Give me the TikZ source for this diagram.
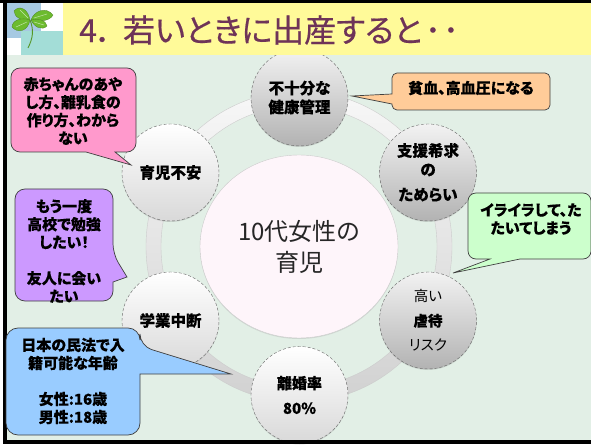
\documentclass[tikz,border=0pt]{standalone}
\usepackage{fontspec}
\newfontfamily\jpfont[RawFeature=+palt, BoldFeatures={FakeBold=0.25}]{Noto Sans CJK JP}
\newfontfamily\titlefont[RawFeature=+palt, FakeBold=0.5]{Noto Sans CJK JP}
\usetikzlibrary{shadows,shapes.geometric}
\definecolor{bgcol}{HTML}{E2EFE6}
\definecolor{titlecol}{HTML}{6E3358}
\definecolor{leafcol}{HTML}{6CBB2E}
\definecolor{pinkcol}{HTML}{FF99CC}
\definecolor{orangecol}{HTML}{FFCC99}
\definecolor{greencol}{HTML}{CCFFCC}
\definecolor{violetcol}{HTML}{CC99FF}
\definecolor{bluecol}{HTML}{99CCFF}
\definecolor{skycol}{HTML}{A6C9E2}
\definecolor{tealcol}{HTML}{A3DDD7}
\tikzset{
  callout/.style={draw=black!75, line width=0.7pt},
  calltext/.style={font=\jpfont\bfseries\fontsize{15}{18}\selectfont, align=center, inner sep=0pt},
  ringnode/.style={circle, minimum size=97pt, inner sep=0pt, align=center, draw=black!60, densely dashed, line width=0.4pt,
    font=\jpfont\bfseries\fontsize{15.5}{19}\selectfont, drop shadow={shadow xshift=0pt, shadow yshift=-1pt, opacity=.25}},
  lightnode/.style={ringnode, top color=white, bottom color=black!15},
  darknode/.style={ringnode, top color=black!5, bottom color=black!30},
  leaf/.style={fill=leafcol, draw=leafcol!70!black, line width=0.3pt},
  vein/.style={draw=white!60!leafcol, line width=0.5pt}
}
\begin{document}
\begin{tikzpicture}[x=1pt, y=-1pt]
\useasboundingbox (0,0) rectangle (591,446);
\fill[white] (0,0) rectangle (591,446);
\fill[bgcol] (5,55) rectangle (591,441);

% ring
\path[even odd rule, draw=black!20, top color=black!3, bottom color=black!18]
  (299,246.5) ellipse [x radius=153, y radius=155.5] (299,246.5) ellipse [x radius=138, y radius=140.5];

% circles
\node[darknode] (kenko) at (299.5,97.5) {不十分な\\健康管理};
\node[lightnode] (fuan) at (170.5,172.5) {育児不安};
\node[darknode] (enjo) at (428,172.5) {支援希求\\の\\[6pt]ためらい};
\node[lightnode] (chudan) at (170.5,320.5) {学業中断};
\node[darknode, font=\jpfont\fontsize{14.5}{24.5}\selectfont] (gyakutai) at (428,320.5) {高い\\\textbf{虐待}\\リスク};
\node[lightnode, font=\jpfont\bfseries\fontsize{15}{25}\selectfont] (rikon) at (299.5,395) {離婚率\\80\%};
\node[ellipse, minimum width=198pt, minimum height=183pt, inner sep=0pt, fill=magenta!4, draw=black!20, align=center,
  drop shadow={shadow xshift=0pt, shadow yshift=-1pt, opacity=.2},
  font=\jpfont\fontsize{24}{31}\selectfont, text=black!85] (center) at (299,246.5) {10代女性の\\育児};

% frame and title
\fill[yellow!40!white] (63,3) rectangle (591,55);
\fill[white] (6,3) rectangle (63,55);
\fill[skycol] (6,3) rectangle (41,38);
\fill[tealcol] (21,31) rectangle (63,55);
\fill[black] (0,0) rectangle (591,3);
\fill[black] (3,0) rectangle (6.5,444);
\fill[black] (3,440) rectangle (591,443.5);
\node[anchor=west, inner sep=0pt, text=titlecol, font=\titlefont\fontsize{32}{32}\selectfont] (title) at (79,30) {4．\hspace{10pt}若いときに出産すると\hspace{3pt}･\hspace{2pt}･};

% clover
\draw[leafcol!80!black, line width=0.9pt] (30,20) .. controls (34,30) and (33,38) .. (28,48);
\path[leaf] (30,21) .. controls (29,10) and (20,4) .. (14,11) .. controls (14,17) and (22,21) .. (30,21);
\path[leaf] (31,20) .. controls (34,11) and (46,6) .. (53,15) .. controls (50,21) and (40,22) .. (31,20);
\path[leaf] (30,20) .. controls (22,17) and (12,20) .. (12,27) .. controls (18,34) and (28,31) .. (30,20);
\path[leaf] (31,20) .. controls (34,27) and (42,31) .. (47,26) .. controls (46,20) and (38,18) .. (31,20);
\draw[vein] (28,18) -- (20,10) (34,18) -- (47,14) (27,22) -- (16,27) (34,22) -- (44,25);

% callouts
\draw[callout, fill=pinkcol] (30,68) [rounded corners=9] -- (136,68) -- (136,152) [sharp corners] -- (115,152) -- (131,165) -- (86,152) [rounded corners=9] -- (11,152) -- (11,68) -- cycle;
\node[calltext] (akachan) at (73,111) {赤ちゃんのあや\\し方、離乳食の\\作り方、わから\\ない};
\draw[callout, fill=orangecol] (410,73) [rounded corners=5] -- (550,73) -- (550,110) -- (392,110) [sharp corners] -- (392,104) -- (352,96) -- (392,94) [rounded corners=5] -- (392,73) -- cycle;
\node[calltext] (hinketsu) at (471,88) {貧血、高血圧になる};
\draw[callout, fill=greencol] (485,193) [rounded corners=8] -- (591,193) -- (591,259) [sharp corners] -- (520,259) -- (453,273) -- (490,259) [rounded corners=8] -- (468,259) -- (468,193) -- cycle;
\node[calltext] (iraira) at (531,219) {イライラして、た\\たいてしまう};
\draw[callout, fill=violetcol] (35,189) [rounded corners=10] -- (113,189) -- (113,254) [sharp corners] -- (127,277) -- (113,282) [rounded corners=10] -- (113,301) -- (15,301) -- (15,189) -- cycle;
\node[calltext] (koukou) at (64,251) {もう一度\\高校で勉強\\したい！\\\\友人に会い\\たい};
\draw[callout, fill=bluecol] (30,328) [rounded corners=12] -- (140,328) -- (140,346) [sharp corners] -- (231,374) -- (140,374) [rounded corners=12] -- (140,435) -- (6,435) -- (6,328) -- cycle;
\node[calltext] (minpou) at (73,381) {日本の民法で入\\籍可能な年齢\\\\女性:16歳\\男性:18歳};
\end{tikzpicture}
\end{document}
